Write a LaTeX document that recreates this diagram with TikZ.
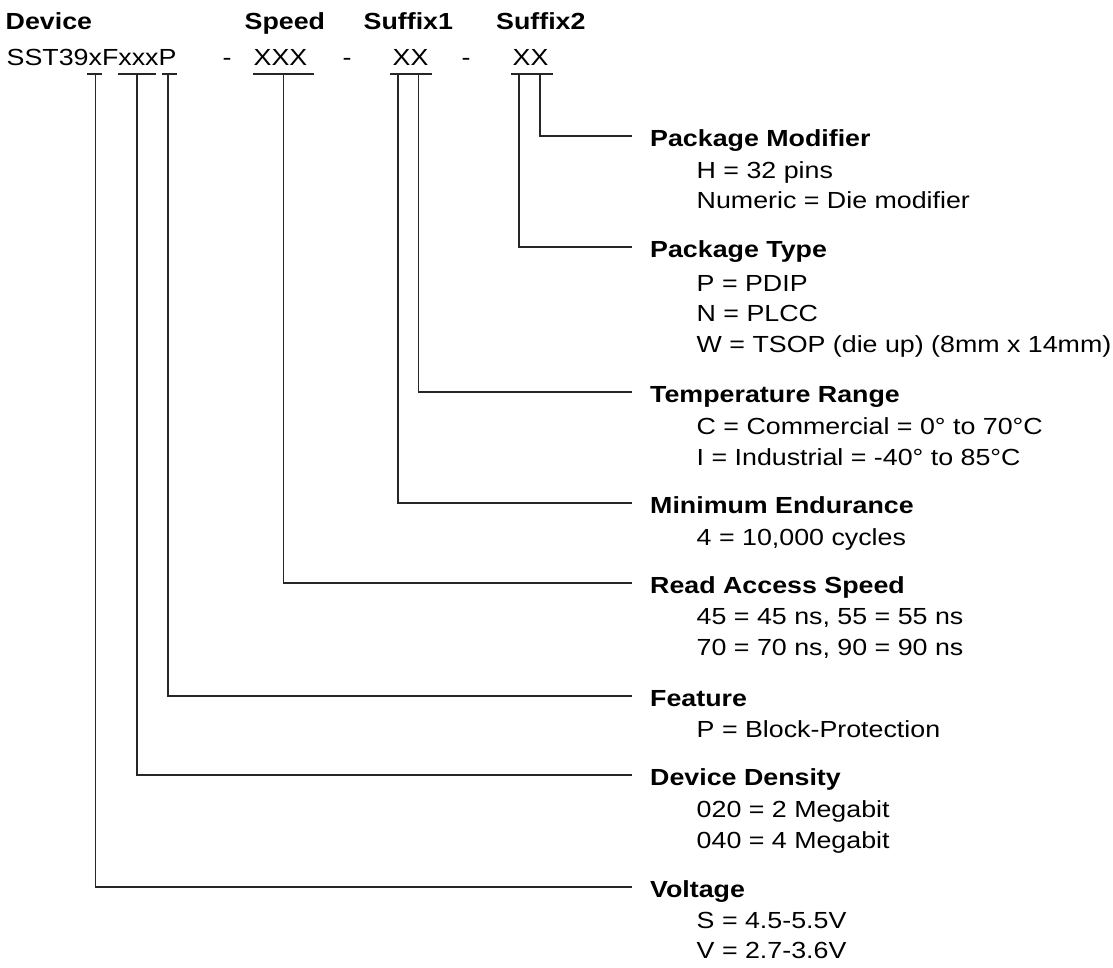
\documentclass[tikz,border=0pt]{standalone}
\usepackage{fontspec}
\setmainfont[FakeStretch=1.15]{Liberation Sans}
\newcommand{\pnsize}{\fontsize{23.3pt}{30.3pt}\selectfont}

\begin{document}
\begin{tikzpicture}[x=1pt,y=-1pt,
	every node/.style={inner sep=0pt,font=\pnsize},
	head/.style={anchor=west,inner xsep=18pt,text height=20pt,text depth=0pt,font=\pnsize\bfseries},
	desc/.style={anchor=base west,align=left},% base = last line
	lead/.style={line width=1.1pt,black!85}]
	\useasboundingbox (0,0) rectangle (1113,967);
	% part number
	\node[anchor=base west,font=\pnsize\bfseries] (hdev) at (5.5,29.3) {Device};
	\node[anchor=base west,font=\pnsize\bfseries] (hspd) at (244.5,29.3) {Speed};
	\node[anchor=base west,font=\pnsize\bfseries] (hsfa) at (363.5,29.3) {Suffix1};
	\node[anchor=base west,font=\pnsize\bfseries] (hsfb) at (496,29.3) {Suffix2};
	\node[anchor=base west] (pn) at (6.5,65.7) {SST39xFxxxP};
	\node[anchor=base] (da) at (227,65.7) {-};
	\node[anchor=base west] (spd) at (253.5,65.7) {XXX};
	\node[anchor=base] (db) at (347,65.7) {-};
	\node[anchor=base west] (sfa) at (392.5,65.7) {XX};
	\node[anchor=base] (dc) at (466,65.7) {-};
	\node[anchor=base west] (sfb) at (512.5,65.7) {XX};
	\draw[lead] (87,74) -- (102,74);
	\draw[lead] (118,74) -- (156,74);
	\draw[lead] (162,74) -- (177,74);
	\draw[lead] (253,74) -- (314,74);
	\draw[lead] (390,74) -- (432,74);
	\draw[lead] (511,74) -- (553,74);
	\coordinate (tvolt) at (95.7,74);
	\coordinate (tdens) at (137,74);
	\coordinate (tfeat) at (168,74);
	\coordinate (tspeed) at (283.5,74);
	\coordinate (tend) at (398,74);
	\coordinate (ttemp) at (418.5,74);
	\coordinate (ttype) at (519,74);
	\coordinate (tmod) at (540,74);
	% fields
	\node[head] (pkgmod) at (632,136) {Package Modifier};
	\node[desc] at (696.5,208.5) {H = 32 pins\\Numeric = Die modifier};
	\node[head] (pkgtype) at (632,247) {Package Type};
	\node[desc] at (696.5,352) {P = PDIP\\N = PLCC\\W = TSOP (die up) (8mm x 14mm)};
	\node[head] (temp) at (632,392) {Temperature Range};
	\node[desc] at (696.5,465) {C = Commercial = 0° to 70°C\\I = Industrial = -40° to 85°C};
	\node[head] (minend) at (632,503) {Minimum Endurance};
	\node[desc] at (696.5,545.5) {4 = 10,000 cycles};
	\node[head] (rspeed) at (632,583) {Read Access Speed};
	\node[desc] at (696.5,655) {45 = 45 ns, 55 = 55 ns\\70 = 70 ns, 90 = 90 ns};
	\node[head] (feat) at (632,696) {Feature};
	\node[desc] at (696.5,737) {P = Block-Protection};
	\node[head] (density) at (632,775) {Device Density};
	\node[desc] at (696.5,848) {020 = 2 Megabit\\040 = 4 Megabit};
	\node[head] (volt) at (632,887) {Voltage};
	\node[desc] at (696.5,958.5) {S = 4.5-5.5V\\V = 2.7-3.6V};
	\foreach \t/\h in {tmod/pkgmod,ttype/pkgtype,ttemp/temp,tend/minend,tspeed/rspeed,tfeat/feat,tdens/density,tvolt/volt}
		\draw[lead] (\t) |- (\h.west);
\end{tikzpicture}
\end{document}
